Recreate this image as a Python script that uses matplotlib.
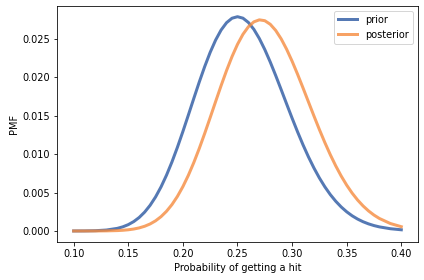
import matplotlib
matplotlib.use("Agg")
import matplotlib.pyplot as plt

# valeurs (PMF)
x_vals = [0.10, 0.11, 0.12, 0.13, 0.14, 0.145, 0.15, 0.155, 0.16, 0.165,
          0.17, 0.175, 0.18, 0.185, 0.19, 0.195, 0.20, 0.205, 0.21, 0.215,
          0.22, 0.225, 0.23, 0.235, 0.24, 0.245, 0.25, 0.255, 0.26, 0.265,
          0.27, 0.275, 0.28, 0.285, 0.29, 0.295, 0.30, 0.305, 0.31, 0.315,
          0.32, 0.325, 0.33, 0.335, 0.34, 0.345, 0.35, 0.355, 0.36, 0.365,
          0.37, 0.375, 0.38, 0.39, 0.40]

prior = [0.000002, 0.000009, 0.000037, 0.000123, 0.000342, 0.000541, 0.000827,
         0.001224, 0.001759, 0.002458, 0.003344, 0.004433, 0.005741, 0.007264,
         0.008991, 0.010899, 0.012948, 0.015087, 0.017259, 0.019393, 0.021415,
         0.023262, 0.024864, 0.026165, 0.027122, 0.027703, 0.027900, 0.027711,
         0.027149, 0.026254, 0.025061, 0.023625, 0.022000, 0.020239, 0.018403,
         0.016539, 0.014694, 0.012912, 0.011220, 0.009645, 0.008204, 0.006903,
         0.005749, 0.004737, 0.003866, 0.003123, 0.002497, 0.001977, 0.001550,
         0.001203, 0.000925, 0.000704, 0.000531, 0.000294, 0.000156]

posterior = [0.000000, 0.000001, 0.000004, 0.000015, 0.000052, 0.000092, 0.000156,
             0.000254, 0.000402, 0.000615, 0.000915, 0.001324, 0.001866, 0.002563,
             0.003437, 0.004504, 0.005773, 0.007243, 0.008907, 0.010741, 0.012709,
             0.014766, 0.016859, 0.018924, 0.020897, 0.022705, 0.024295, 0.025607,
             0.026594, 0.027229, 0.027492, 0.027382, 0.026915, 0.026112, 0.025015,
             0.023662, 0.022112, 0.020415, 0.018629, 0.016801, 0.014981, 0.013206,
             0.011513, 0.009927, 0.008468, 0.007146, 0.005966, 0.004929, 0.004030,
             0.003261, 0.002612, 0.002070, 0.001625, 0.000971, 0.000557]

x_ticks = [0.10, 0.15, 0.20, 0.25, 0.30, 0.35, 0.40]
y_ticks = [0.000, 0.005, 0.010, 0.015, 0.020, 0.025]

plt.rcParams['font.size'] = 9.8

fig = plt.figure(figsize=(424 / 72, 280 / 72), dpi=72)
ax = fig.add_axes([0.1351, 0.1368, 0.850, 0.8418])

ax.plot(x_vals, prior, label='prior', color='#4C72B0', linewidth=3, alpha=0.95)
ax.plot(x_vals, posterior, label='posterior', color='#F58B3F', linewidth=3, alpha=0.8)

ax.set_xticks(x_ticks)
ax.set_xticklabels([f"{t:.2f}" for t in x_ticks])
ax.set_yticks(y_ticks)
ax.set_yticklabels([f"{t:.3f}" for t in y_ticks])

ax.set_xlabel('Probability of getting a hit')
ax.set_ylabel('PMF')
ax.legend(loc='upper right')

fig.savefig('out.png', dpi=72)
